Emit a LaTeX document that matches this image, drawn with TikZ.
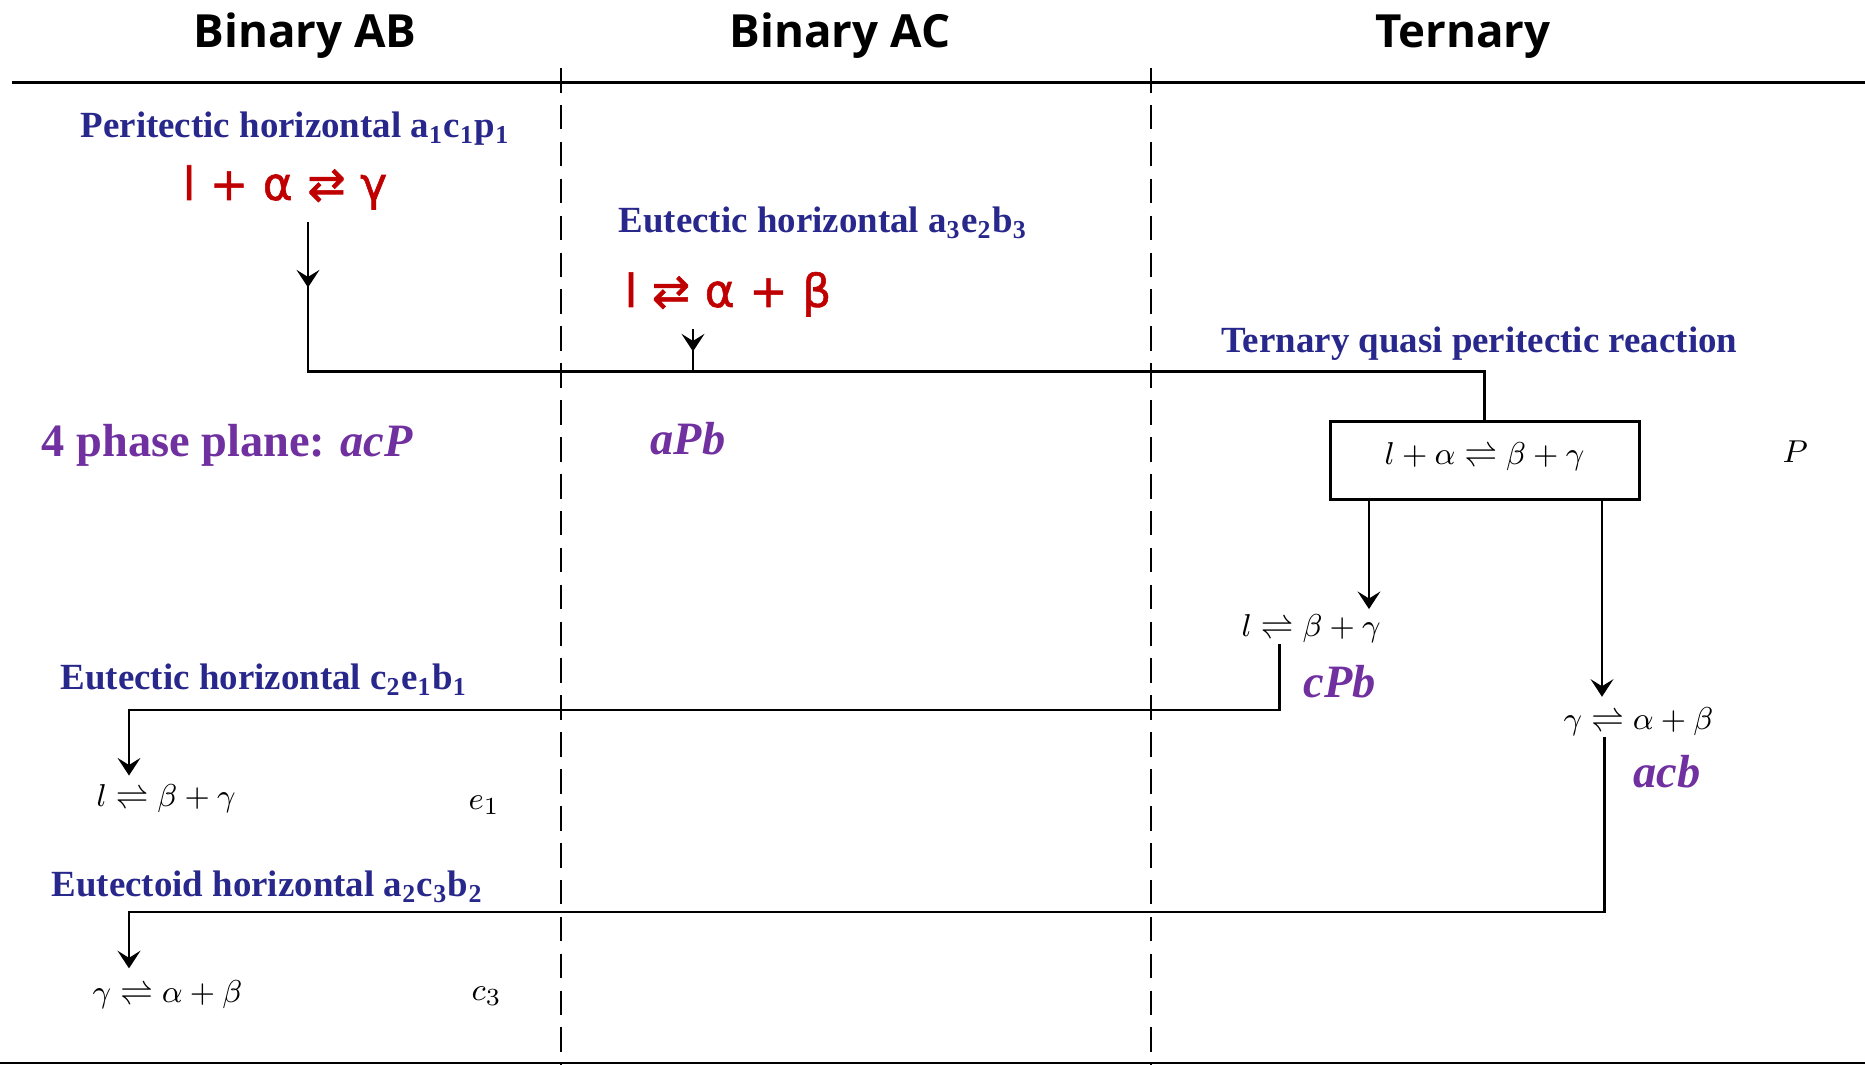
\documentclass[tikz,border=0pt]{standalone}
\usepackage[no-math]{fontspec}
\setmainfont{Liberation Serif}
\newfontfamily\headfont{Open Sans}
\newfontfamily\rxnfont{DejaVu Sans}[FakeBold=1.2]
\usetikzlibrary{arrows.meta,positioning,decorations.markings}

\definecolor{labelblue}{RGB}{40,40,140}
\definecolor{rxnred}{RGB}{192,0,0}
\definecolor{planepurple}{RGB}{112,48,160}

\begin{document}
\begin{tikzpicture}[
  x=0.1mm, y=-0.1mm,
  every node/.style={inner sep=0pt},
  colhead/.style={font=\headfont\bfseries\fontsize{13}{15}\selectfont, anchor=base},
  horiz/.style={font=\bfseries\fontsize{10.5}{12}\selectfont, text=labelblue, anchor=base west},
  redrxn/.style={font=\rxnfont\fontsize{13}{15}\selectfont, text=rxnred, anchor=base},
  planelabel/.style={font=\bfseries\fontsize{13.2}{15}\selectfont, text=planepurple, anchor=base west},
  oldeqn/.style={font=\fontsize{9.5}{11}\selectfont, anchor=base west},
  tieline/.style={line width=0.85pt},
  feedline/.style={line width=0.6pt},
  endarrow/.style={-{Stealth[length=5pt,width=6.5pt,inset=2pt]}},
  midtip/.style={postaction={decorate}, decoration={markings,
    mark=at position #1 with {\arrow{Stealth[length=5pt,width=6.5pt,inset=2pt]}}}},
  divider/.style={line width=0.8pt, dash pattern=on 7pt off 3.5pt},
  qbox/.style={draw, line width=0.85pt, minimum width=30.9mm, minimum height=7.8mm,
    text height=7pt, text depth=5pt, font=\fontsize{9.5}{11}\selectfont}
]
\useasboundingbox (0,0) rectangle (1865,1065);

% column heads and frame
\node[colhead] (hAB) at (305,48) {Binary AB};
\node[colhead] (hAC) at (840,48) {Binary AC};
\node[colhead] (hT) at (1463,48) {Ternary};
\draw[tieline] (12,83) -- (1865,83);
\draw[tieline] (0,1063) -- (1865,1063);
\draw[divider] (561,68) -- (561,1065);
\draw[divider] (1151,68) -- (1151,1065);

% binary horizontals
\node[horiz] (periH) at (80,138) {Peritectic horizontal a\textsubscript{1}c\textsubscript{1}p\textsubscript{1}};
\node[redrxn] (periR) at (285,200) {l + α ⇄ γ};
\node[horiz] (eutH) at (618,233) {Eutectic horizontal a\textsubscript{3}e\textsubscript{2}b\textsubscript{3}};
\node[redrxn, anchor=base west] (eutR) at (624,307) {l ⇄ α + β};
\node[horiz] (eut1H) at (60,690) {Eutectic horizontal c\textsubscript{2}e\textsubscript{1}b\textsubscript{1}};
\node[horiz] (eut2H) at (51,897) {Eutectoid horizontal a\textsubscript{2}c\textsubscript{3}b\textsubscript{2}};

% ternary reaction
\node[horiz] (quasiH) at (1221,353) {Ternary quasi peritectic reaction};
\node[qbox] (quasi) at (1484.5,461) {$l+\alpha\rightleftharpoons\beta+\gamma$};
\node[oldeqn] (pP) at (1782,463) {$P$};
\node[oldeqn] (ter1) at (1241,637) {$l\rightleftharpoons\beta+\gamma$};
\node[oldeqn] (ter2) at (1563,730) {$\gamma\rightleftharpoons\alpha+\beta$};

% binary products
\node[oldeqn] (bin1) at (96,807) {$l\rightleftharpoons\beta+\gamma$};
\node[oldeqn] (e1) at (468,810) {$e_1$};
\node[oldeqn] (bin2) at (92,1003) {$\gamma\rightleftharpoons\alpha+\beta$};
\node[oldeqn] (c3) at (471,1001) {$c_3$};

% 4 phase planes
\node[planelabel] (acp) at (41,457) {4 phase plane: \textit{acP}};
\node[planelabel] (apb) at (650,455) {\textit{aPb}};
\node[planelabel] (cpb) at (1303,698) {\textit{cPb}};
\node[planelabel] (acb) at (1633,788) {\textit{acb}};

% connectors
\coordinate (j1) at (308,372);
\coordinate (j2) at (693,372);
\coordinate (x1) at (1369,0);
\coordinate (x2) at (1602,0);
\coordinate (x3) at (1279,0);
\coordinate (x4) at (1604,0);
\coordinate (k1) at (129,710);
\coordinate (k2) at (129,912);
\draw[tieline, midtip=6.5mm] ([yshift=-3.5pt]periR.south -| j1) -- (j1) -| (quasi.north);
\draw[tieline, midtip=2.2mm] ([yshift=-3.5pt]eutR.south -| j2) -- (j2);
\draw[feedline, endarrow] (quasi.south -| x1) -- ([yshift=1.5pt]ter1.north -| x1);
\draw[feedline, endarrow] (quasi.south -| x2) -- ([yshift=3pt]ter2.north -| x2);
\draw[tieline, endarrow] (ter1.south -| x3) |- (k1) -- ([yshift=2.5pt]bin1.north -| k1);
\draw[tieline, endarrow] (ter2.south -| x4) |- (k2) -- ([yshift=3.4pt]bin2.north -| k2);
\end{tikzpicture}
\end{document}
